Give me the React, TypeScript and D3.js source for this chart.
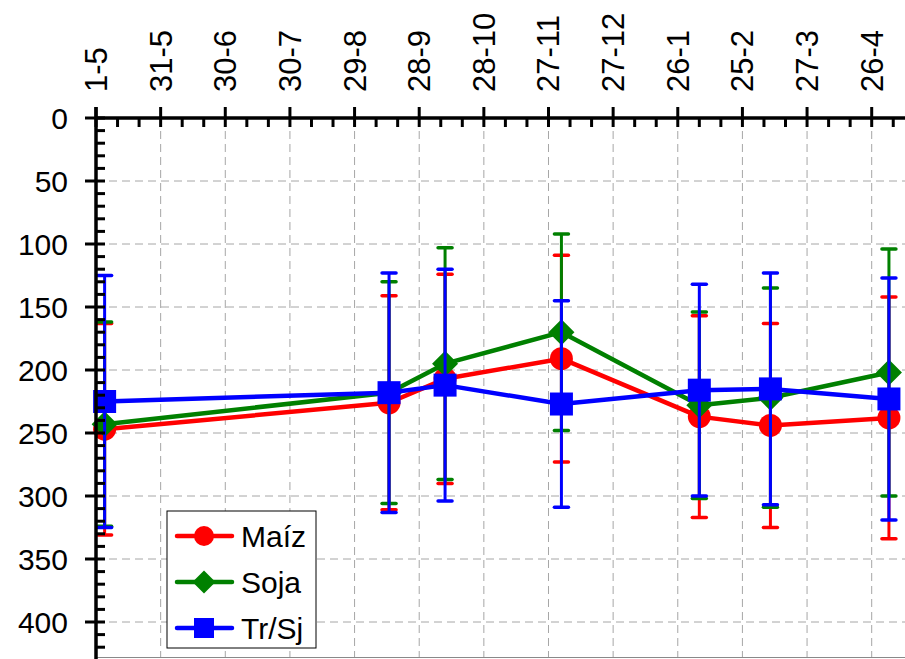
import React from "react";
import * as d3 from "d3";

// ---- data ----
const tickDays = [0, 30, 60, 90, 120, 150, 180, 210, 240, 270, 300, 330, 360];
const tickLabels = ["1-5", "31-5", "30-6", "30-7", "29-8", "28-9", "28-10", "27-11", "27-12", "26-1", "25-2", "27-3", "26-4"];
const yTicks = [0, 50, 100, 150, 200, 250, 300, 350, 400];
const sampleDays = [4, 136, 162, 216, 280, 313, 368];
const maiz = [247, 226, 207, 191, 237, 244, 238];
const maizErr = [84, 85, 83, 82, 80, 81, 96];
const soja = [243, 218, 195, 170, 228, 222, 202];
const sojaErr = [81, 88, 92, 78, 74, 87, 98];
const trsj = [225, 218, 212, 227, 216, 215, 223];
const trsjErr = [100, 95, 92, 82, 84, 92, 96];
const seriesNames = ["Maíz", "Soja", "Tr/Sj"];

const W = 905;
const H = 659;
const FONT = "'Liberation Sans', Arial, sans-serif";

const series = [
  { name: seriesNames[0], vals: maiz, err: maizErr, color: "#FF0000", shape: "circle" },
  { name: seriesNames[1], vals: soja, err: sojaErr, color: "#008000", shape: "diamond" },
  { name: seriesNames[2], vals: trsj, err: trsjErr, color: "#0000FF", shape: "square" },
];

function Marker({ shape, cx, cy, size, color }: { shape: string; cx: number; cy: number; size: number; color: string }) {
  if (shape === "circle") return <circle cx={cx} cy={cy} r={size / 2} fill={color} />;
  if (shape === "diamond") {
    const h = size / 2 + 1.5;
    return <path d={`M${cx},${cy - h}L${cx + h},${cy}L${cx},${cy + h}L${cx - h},${cy}Z`} fill={color} />;
  }
  return <rect x={cx - size / 2} y={cy - size / 2} width={size} height={size} fill={color} />;
}

export default function App() {
  const x = d3.scaleLinear().domain([0, 360]).range([96, 871.7]);
  const y = d3.scaleLinear().domain([0, 400]).range([118, 622]);
  const xMax = x.invert(W);
  const yMax = y.invert(H);
  const axX = x(0);
  const axY = y(0);
  const plotBottom = 657.5;

  const minorX = d3.range(10, xMax, 10).filter((d) => d % 30 !== 0);
  const minorY = d3.range(10, yMax, 10).filter((d) => d % 50 !== 0);

  const line = d3
    .line<number>()
    .x((_, i) => x(sampleDays[i]))
    .y((d) => y(d));

  return (
    <svg width={W} height={H} style={{ position: "absolute", left: 0, top: 0, background: "#fff" }} fontFamily={FONT}>
      {/* grid */}
      {tickDays.slice(1).map((d) => (
        <line key={"gx" + d} x1={x(d)} x2={x(d)} y1={axY} y2={plotBottom} stroke="#a6a6a6" strokeWidth={1} strokeDasharray="8,5" />
      ))}
      {yTicks.slice(1).map((v) => (
        <line key={"gy" + v} x1={axX} x2={W} y1={y(v)} y2={y(v)} stroke="#a6a6a6" strokeWidth={1} strokeDasharray="8,5" />
      ))}
      <line x1={axX} x2={W} y1={plotBottom} y2={plotBottom} stroke="#898989" strokeWidth={1} />

      {/* series */}
      {series.map((s) => (
        <g key={s.name}>
          <path d={line(s.vals) || ""} fill="none" stroke={s.color} strokeWidth={4.5} strokeLinejoin="round" />
          {s.vals.map((v, i) => {
            const cx = x(sampleDays[i]);
            const top = y(v - s.err[i]);
            const bot = y(v + s.err[i]);
            return (
              <g key={i} stroke={s.color} strokeWidth={3}>
                <line x1={cx} x2={cx} y1={top} y2={bot} />
                <line x1={cx - 7} x2={cx + 7} y1={top} y2={top} strokeWidth={3.5} strokeLinecap="round" />
                <line x1={cx - 7} x2={cx + 7} y1={bot} y2={bot} strokeWidth={3.5} strokeLinecap="round" />
              </g>
            );
          })}
          {s.vals.map((v, i) => (
            <Marker key={"m" + i} shape={s.shape} cx={x(sampleDays[i])} cy={y(v)} size={23} color={s.color} />
          ))}
        </g>
      ))}

      {/* axes */}
      <line x1={axX} x2={W} y1={axY} y2={axY} stroke="#000" strokeWidth={3.5} />
      <line x1={axX} x2={axX} y1={107} y2={H} stroke="#000" strokeWidth={3.5} />
      {tickDays.map((d) => (
        <line key={"tx" + d} x1={x(d)} x2={x(d)} y1={107} y2={127} stroke="#000" strokeWidth={3} />
      ))}
      {minorX.map((d) => (
        <line key={"mx" + d} x1={x(d)} x2={x(d)} y1={axY} y2={127} stroke="#000" strokeWidth={3} />
      ))}
      {yTicks.map((v) => (
        <line key={"ty" + v} x1={85} x2={105} y1={y(v)} y2={y(v)} stroke="#000" strokeWidth={3} />
      ))}
      {minorY.map((v) => (
        <line key={"my" + v} x1={axX} x2={105} y1={y(v)} y2={y(v)} stroke="#000" strokeWidth={3} />
      ))}

      {/* tick labels */}
      {tickDays.map((d, i) => (
        <text key={"lx" + d} transform={`translate(${x(d) + 11},92) rotate(-90)`} textAnchor="start" fontSize={31} fill="#000">
          {tickLabels[i]}
        </text>
      ))}
      {yTicks.map((v) => (
        <text key={"ly" + v} x={68} y={y(v)} textAnchor="end" dominantBaseline="central" fontSize={30} fill="#000">
          {v}
        </text>
      ))}

      {/* legend */}
      <rect x={167} y={511} width={149} height={137} fill="#fff" stroke="#000" strokeWidth={1} />
      {series.map((s, i) => {
        const ly = 536 + i * 46;
        return (
          <g key={"leg" + i}>
            <line x1={177} x2={232} y1={ly} y2={ly} stroke={s.color} strokeWidth={4.5} strokeLinecap="round" />
            <Marker shape={s.shape} cx={204} cy={ly} size={20} color={s.color} />
            <text x={241} y={ly} dominantBaseline="central" fontSize={30} fill="#000">
              {s.name}
            </text>
          </g>
        );
      })}
    </svg>
  );
}
